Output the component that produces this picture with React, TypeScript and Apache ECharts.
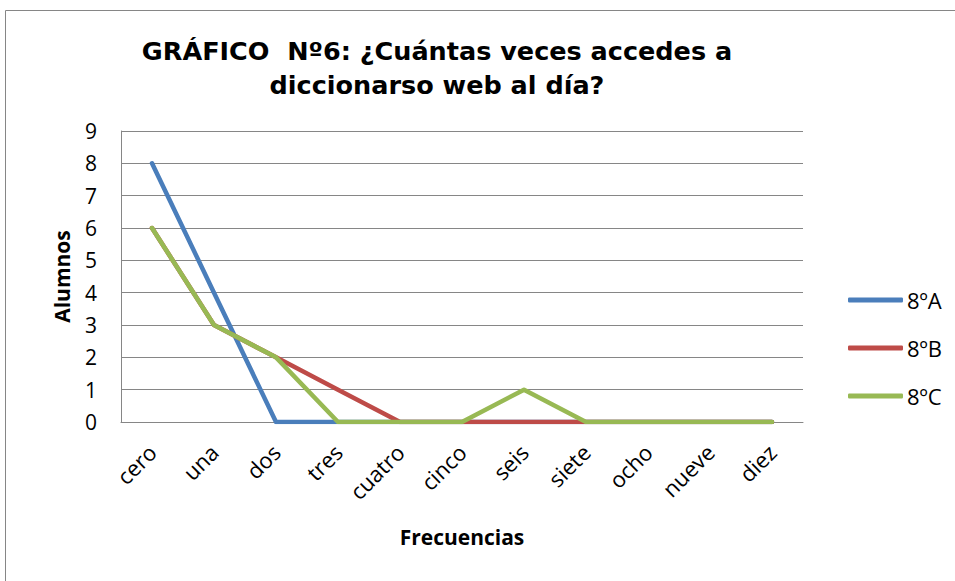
import React, { useEffect, useRef } from "react";
import * as echarts from "echarts";

const categories = ["cero", "una", "dos", "tres", "cuatro", "cinco", "seis", "siete", "ocho", "nueve", "diez"];
const serieA = [8, 4, 0, 0, 0, 0, 0, 0, 0, 0, 0];
const serieB = [6, 3, 2, 1, 0, 0, 0, 0, 0, 0, 0];
const serieC = [6, 3, 2, 0, 0, 0, 1, 0, 0, 0, 0];
const seriesNames = ["8ºA", "8ºB", "8ºC"];
const seriesColors = ["#4A7EBB", "#BE4B48", "#98B954"];
const yTicks = { min: 0, max: 9, interval: 1 };

const labelFont = "'Open Sans', Lato, sans-serif";

export default function App() {
  const ref = useRef<HTMLDivElement>(null);
  useEffect(() => {
    if (!ref.current) return;
    const chart = echarts.init(ref.current, undefined, { renderer: "svg" });
    const data = [serieA, serieB, serieC];
    chart.setOption({
      animation: false,
      backgroundColor: "#ffffff",
      title: {
        text: "GRÁFICO  Nº6: ¿Cuántas veces accedes a\ndiccionarso web al día?",
        left: 432,
        top: 29,
        textAlign: "center",
        textStyle: {
          fontFamily: "'DejaVu Sans', 'Liberation Sans', sans-serif",
          fontWeight: "bold",
          fontSize: 25.5,
          lineHeight: 34,
          color: "#000",
        },
      },
      graphic: [
        {
          type: "rect",
          shape: { x: 5.5, y: 10.5, width: 960, height: 580 },
          style: { fill: "none", stroke: "#868686", lineWidth: 1 },
          silent: true,
        },
      ],
      legend: {
        orient: "vertical",
        left: 843,
        top: 284,
        icon: "roundRect",
        itemWidth: 55,
        itemHeight: 5,
        itemGap: 26,
        data: seriesNames,
        textStyle: { fontFamily: labelFont, fontSize: 22, lineHeight: 22, color: "#000", padding: [0, 0, 0, -1] },
      },
      grid: { left: 121, right: 152, top: 131, bottom: 159 },
      xAxis: {
        type: "category",
        data: categories,
        boundaryGap: true,
        name: "Frecuencias",
        nameLocation: "middle",
        nameGap: 104,
        nameTextStyle: { fontFamily: labelFont, fontWeight: "bold", fontSize: 21, color: "#000" },
        axisLine: { lineStyle: { color: "#868686", width: 1 } },
        axisTick: { show: false },
        axisLabel: {
          rotate: 45,
          interval: 0,
          margin: 26,
          fontFamily: labelFont,
          fontSize: 22,
          color: "#000",
        },
      },
      yAxis: {
        type: "value",
        min: yTicks.min,
        max: yTicks.max,
        interval: yTicks.interval,
        name: "Alumnos",
        nameLocation: "middle",
        nameGap: 49,
        nameTextStyle: { fontFamily: labelFont, fontWeight: "bold", fontSize: 21, color: "#000" },
        axisLine: { show: true, lineStyle: { color: "#868686", width: 1 } },
        axisTick: { show: false },
        splitLine: { lineStyle: { color: "#868686", width: 1 } },
        axisLabel: { margin: 24, fontFamily: labelFont, fontSize: 21, color: "#000" },
      },
      series: data.map((d, i) => ({
        name: seriesNames[i],
        type: "line",
        data: d,
        symbol: "none",
        color: seriesColors[i],
        lineStyle: { width: 4.5, color: seriesColors[i], cap: "round", join: "round" },
      })),
    });
    return () => chart.dispose();
  }, []);
  return <div ref={ref} style={{ width: 955, height: 581, position: "absolute", left: 0, top: 0 }} />;
}
